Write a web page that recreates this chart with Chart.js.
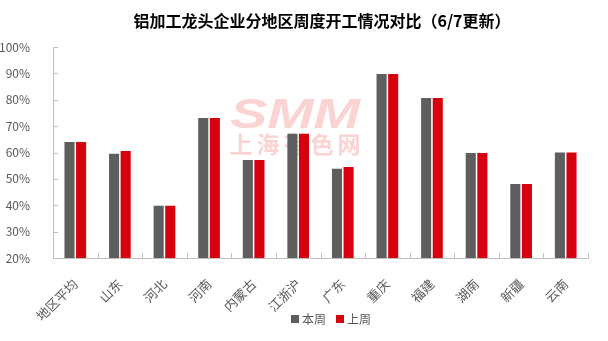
<!DOCTYPE html>
<html>
<head>
<meta charset="utf-8">
<script src="https://cdn.jsdelivr.net/npm/chart.js@4/dist/chart.umd.min.js"></script>
<style>
  html, body { margin: 0; padding: 0; background: #fff; }
  #wrap { width: 608px; height: 341px; position: relative; }
</style>
</head>
<body>
<div id="wrap"><canvas id="c" width="608" height="341"></canvas></div>
<script>
// Regions and weekly operating rates (%)
const regions = ['地区平均', '山东', '河北', '河南', '内蒙古', '江浙沪', '广东', '重庆', '福建', '湖南', '新疆', '云南'];
const thisWeek = [64.0, 59.5, 39.8, 73.1, 57.2, 67.1, 53.8, 89.8, 80.7, 59.8, 48.1, 60.0];
const lastWeek = [64.0, 60.6, 39.8, 73.1, 57.2, 67.1, 54.5, 89.8, 80.7, 59.8, 48.1, 60.0];
const seriesNames = ['本周', '上周'];
const yTicks = [20, 30, 40, 50, 60, 70, 80, 90, 100];

const titleText = '铝加工龙头企业分地区周度开工情况对比（6/7更新）';
const FONT = '"Noto Sans CJK SC", "Microsoft YaHei", sans-serif';
const GREY = '#5E5E5E';
const RED = '#D7000F';
const AXIS = '#BFBFBF';
const TEXT = '#595959';

// Title, watermark, inward tick marks and legend
const decor = {
  id: 'decor',
  beforeDatasetsDraw(chart) {
    const ctx = chart.ctx;
    ctx.save();
    ctx.fillStyle = '#FCD3D3';
    // SMM mark
    ctx.font = 'italic bold 42px "Liberation Sans", Arial, sans-serif';
    const w = ctx.measureText('SMM').width;
    ctx.translate(230, 128);
    ctx.scale(130 / w, 1);
    ctx.textBaseline = 'alphabetic';
    ctx.fillText('SMM', 0, 0);
    ctx.setTransform(1, 0, 0, 1, 0, 0);
    ctx.font = 'bold 23px ' + FONT;
    ctx.textBaseline = 'middle';
    ctx.textAlign = 'center';
    const wm = '上海有色网';
    for (let i = 0; i < wm.length; i++) {
      ctx.fillText(wm[i], 241 + i * 27, 144);
    }
    ctx.restore();
  },
  afterDraw(chart) {
    const ctx = chart.ctx;
    const xs = chart.scales.x, ys = chart.scales.y;
    ctx.save();
    // tick marks pointing into the plot
    ctx.strokeStyle = AXIS;
    ctx.lineWidth = 1;
    ctx.beginPath();
    ys.ticks.forEach(t => {
      const y = Math.round(ys.getPixelForValue(t.value)) + 0.5;
      ctx.moveTo(xs.left, y);
      ctx.lineTo(xs.left + 5, y);
    });
    for (let i = 0; i <= regions.length; i++) {
      const x = Math.round(xs.getPixelForValue(i - 0.5)) + 0.5;
      ctx.moveTo(x, ys.bottom);
      ctx.lineTo(x, ys.bottom - 5);
    }
    ctx.stroke();

    // title
    ctx.fillStyle = '#000';
    ctx.font = 'bold 16px ' + FONT;
    ctx.textAlign = 'center';
    ctx.textBaseline = 'middle';
    ctx.fillText(titleText, 322, 21);

    // legend
    ctx.font = '12px ' + FONT;
    ctx.textAlign = 'left';
    const colors = [GREY, RED];
    let x = 291;
    const cy = 319;
    chart.data.datasets.forEach((ds, i) => {
      ctx.fillStyle = colors[i];
      ctx.fillRect(x, cy - 4, 8, 8);
      ctx.fillStyle = TEXT;
      ctx.fillText(ds.label, x + 11, cy);
      x += 11 + ctx.measureText(ds.label).width + 10;
    });
    ctx.restore();
  }
};

new Chart(document.getElementById('c'), {
  type: 'bar',
  data: {
    labels: regions,
    datasets: [
      { label: seriesNames[0], data: thisWeek, backgroundColor: GREY },
      { label: seriesNames[1], data: lastWeek, backgroundColor: RED }
    ]
  },
  options: {
    responsive: false,
    animation: false,
    devicePixelRatio: 1,
    layout: { padding: { left: 0, right: 20, top: 47, bottom: 0 } },
    categoryPercentage: 0.52,
    barPercentage: 0.87,
    plugins: {
      legend: { display: false },
      title: { display: false },
      tooltip: { enabled: false }
    },
    scales: {
      x: {
        offset: true,
        grid: { display: false },
        border: { display: true, color: AXIS, width: 1 },
        ticks: {
          color: TEXT,
          font: { family: FONT, size: 13 },
          maxRotation: 45,
          minRotation: 45,
          autoSkip: false,
          padding: 10
        },
        afterFit(scale) { scale.height = 83; }
      },
      y: {
        min: 20,
        max: 100,
        grid: { display: false },
        border: { display: true, color: AXIS, width: 1 },
        afterBuildTicks(scale) { scale.ticks = yTicks.map(v => ({ value: v })); },
        ticks: {
          color: TEXT,
          font: { family: FONT, size: 12 },
          padding: 15,
          callback: v => v + '%'
        },
        afterFit(scale) { scale.width = 53; }
      }
    }
  },
  plugins: [decor]
});
</script>
</body>
</html>
